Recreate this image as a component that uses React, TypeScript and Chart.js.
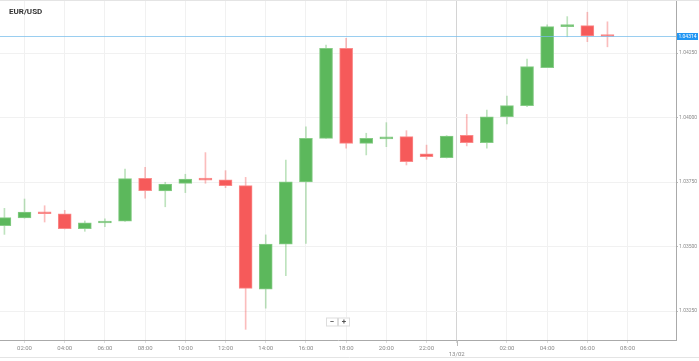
import React, { useEffect, useRef } from 'react';
import { Chart, registerables } from 'chart.js';
Chart.register(...registerables);

// hours since 00:00 on 12/02
const hours = [1, 2, 3, 4, 5, 6, 7, 8, 9, 10, 11, 12, 13, 14, 15, 16, 17, 18, 19, 20, 21, 22, 23, 24, 25, 26, 27, 28, 29, 30, 31];
const opens = [1.03581, 1.03611, 1.03634, 1.03627, 1.03569, 1.03591, 1.03598, 1.03764, 1.03715, 1.03745, 1.03763, 1.03758, 1.03736, 1.03335, 1.03509, 1.03750, 1.03919, 1.04268, 1.03900, 1.03917, 1.03926, 1.03859, 1.03844, 1.03931, 1.03902, 1.04003, 1.04046, 1.04193, 1.04352, 1.04356, 1.04320];
const closes = [1.03612, 1.03633, 1.03627, 1.03569, 1.03592, 1.03599, 1.03763, 1.03716, 1.03742, 1.03761, 1.03757, 1.03736, 1.03338, 1.03509, 1.03751, 1.03919, 1.04268, 1.03900, 1.03919, 1.03924, 1.03829, 1.03848, 1.03928, 1.03902, 1.04003, 1.04046, 1.04197, 1.04352, 1.04359, 1.04316, 1.04314];
const highs = [1.03648, 1.03684, 1.03658, 1.03640, 1.03599, 1.03607, 1.03800, 1.03807, 1.03749, 1.03780, 1.03864, 1.03794, 1.03768, 1.03545, 1.03835, 1.03964, 1.04281, 1.04307, 1.03939, 1.03980, 1.03949, 1.03893, 1.03930, 1.04012, 1.04029, 1.04083, 1.04226, 1.04359, 1.04391, 1.04408, 1.04371];
const lows = [1.03547, 1.03610, 1.03595, 1.03568, 1.03559, 1.03577, 1.03597, 1.03687, 1.03654, 1.03709, 1.03745, 1.03728, 1.03179, 1.03261, 1.03387, 1.03512, 1.03919, 1.03881, 1.03855, 1.03887, 1.03816, 1.03838, 1.03843, 1.03890, 1.03881, 1.03975, 1.04042, 1.04193, 1.04313, 1.04294, 1.04274];

const yTicks = [1.0325, 1.035, 1.0375, 1.04, 1.0425];
const xTicks = [2, 4, 6, 8, 10, 12, 14, 16, 18, 20, 22, 23.5, 26, 28, 30, 32];
const dayBreak = 23.5;
const dayLabel = '13/02';
const title = 'EUR/USD';
const lastPrice = 1.04314;

const GREEN = '#5cb85c';
const GREEN_EDGE = '#86cc86';
const GREEN_WICK = 'rgba(92,184,92,0.4)';
const RED = '#f65a5a';
const RED_EDGE = '#fa8a8a';
const RED_WICK = 'rgba(246,90,90,0.4)';

export default function App() {
  const ref = useRef<HTMLCanvasElement>(null);
  useEffect(() => {
    const up = closes.map((c, i) => c >= opens[i]);
    const overlay = {
      id: 'overlay',
      afterDatasetsDraw(chart: any) {
        const { ctx, chartArea, scales } = chart;
        const y = scales.y.getPixelForValue(lastPrice);
        ctx.save();
        ctx.strokeStyle = 'rgba(120,190,235,0.75)';
        ctx.lineWidth = 1.2;
        ctx.beginPath();
        ctx.moveTo(chartArea.left, y);
        ctx.lineTo(chartArea.right, y);
        ctx.stroke();
        ctx.restore();
      },
      afterDraw(chart: any) {
        const { ctx, chartArea, scales, width } = chart;
        ctx.save();
        ctx.strokeStyle = '#e4e4e4';
        ctx.lineWidth = 1;
        ctx.beginPath();
        ctx.moveTo(0, 0.5);
        ctx.lineTo(width, 0.5);
        ctx.stroke();
        ctx.beginPath();
        ctx.moveTo(0, 357.5);
        ctx.lineTo(width, 357.5);
        ctx.stroke();
        const y = scales.y.getPixelForValue(lastPrice);
        ctx.fillStyle = '#2196f3';
        ctx.fillRect(chartArea.right + 1, y - 3.5, 21, 7);
        ctx.fillStyle = '#ffffff';
        ctx.font = '5px Roboto, sans-serif';
        ctx.textBaseline = 'middle';
        ctx.textAlign = 'center';
        ctx.fillText(lastPrice.toFixed(5), chartArea.right + 11.5, y + 0.3);
        ctx.fillStyle = '#333333';
        ctx.font = 'bold 8px Roboto, sans-serif';
        ctx.textAlign = 'left';
        ctx.fillText(title, 9, 12);
        const dx = scales.x.getPixelForValue(dayBreak);
        ctx.fillStyle = '#888888';
        ctx.font = '6px Roboto, sans-serif';
        ctx.textAlign = 'center';
        ctx.fillText(dayLabel, dx, 354);
        ctx.strokeStyle = '#bbbbbb';
        ctx.beginPath();
        ctx.moveTo(Math.round(dx) + 0.5, chartArea.bottom);
        ctx.lineTo(Math.round(dx) + 0.5, chartArea.bottom + 6);
        ctx.stroke();
        const bx = 326, by = 317.5;
        ctx.fillStyle = '#ffffff';
        ctx.strokeStyle = '#dddddd';
        ctx.fillRect(bx, by, 11, 8);
        ctx.strokeRect(bx + 0.5, by + 0.5, 11, 8);
        ctx.fillRect(bx + 12, by, 11, 8);
        ctx.strokeRect(bx + 12.5, by + 0.5, 11, 8);
        ctx.fillStyle = '#555555';
        ctx.font = 'bold 8px Roboto, sans-serif';
        ctx.fillText('\u2212', bx + 6, by + 4.5);
        ctx.fillText('+', bx + 18, by + 4.5);
        ctx.restore();
      },
    };
    const chart = new Chart(ref.current as HTMLCanvasElement, {
      type: 'bar',
      data: {
        datasets: [
          {
            label: 'body',
            data: hours.map((h, i) => ({ x: h, y: [opens[i], closes[i]] })) as any,
            backgroundColor: up.map((u) => (u ? GREEN : RED)),
            borderColor: up.map((u) => (u ? GREEN_EDGE : RED_EDGE)),
            borderWidth: 1,
            borderSkipped: false,
            barThickness: 13,
            minBarLength: 2,
            grouped: false,
            order: 0,
          } as any,
          {
            label: 'wick',
            data: hours.map((h, i) => ({ x: h, y: [lows[i], highs[i]] })) as any,
            backgroundColor: up.map((u) => (u ? GREEN_WICK : RED_WICK)),
            barThickness: 1,
            grouped: false,
            order: 1,
          } as any,
        ],
      },
      options: {
        animation: false,
        responsive: false,
        maintainAspectRatio: false,
        layout: { padding: { top: 1, left: 0, right: 0, bottom: 0 } },
        plugins: { legend: { display: false }, tooltip: { enabled: false } },
        scales: {
          x: {
            type: 'linear',
            offset: false,
            min: 0.78,
            max: 34.41,
            afterBuildTicks: (s: any) => {
              s.ticks = xTicks.map((v) => ({ value: v }));
            },
            afterFit: (s: any) => {
              s.height = 21;
              s.paddingLeft = 0;
              s.paddingRight = 0;
            },
            grid: {
              offset: false,
              color: (c: any) => (c.tick && c.tick.value === dayBreak ? '#d4d4d4' : '#f1f1f1'),
              tickLength: 3,
              tickColor: '#dddddd',
            },
            border: { color: '#aaaaaa' },
            ticks: {
              autoSkip: false,
              maxRotation: 0,
              padding: 2,
              color: '#8a8a8a',
              font: { size: 6, family: 'Roboto, sans-serif' },
              callback: (v: any) => {
                if (v === dayBreak) return '';
                const h = Number(v) % 24;
                return (h < 10 ? '0' : '') + h + ':00';
              },
            },
          },
          y: {
            type: 'linear',
            position: 'right',
            min: 1.031376,
            max: 1.044516,
            afterBuildTicks: (s: any) => {
              s.ticks = yTicks.map((v) => ({ value: v }));
            },
            afterFit: (s: any) => {
              s.width = 23;
              s.paddingTop = 0;
              s.paddingBottom = 0;
            },
            grid: { color: '#f1f1f1', tickLength: 2, tickColor: '#bbbbbb' },
            border: { color: '#aaaaaa' },
            ticks: {
              padding: 1,
              color: '#8a8a8a',
              font: { size: 5, family: 'Roboto, sans-serif' },
              callback: (v: any) => Number(v).toFixed(5),
            },
          },
        },
      },
      plugins: [overlay],
    } as any);
    return () => chart.destroy();
  }, []);
  return (
    <div style={{ position: 'fixed', left: 0, top: 0, width: 699, height: 361, background: '#ffffff' }}>
      <canvas ref={ref} width={699} height={361} style={{ width: 699, height: 361, display: 'block' }} />
    </div>
  );
}
